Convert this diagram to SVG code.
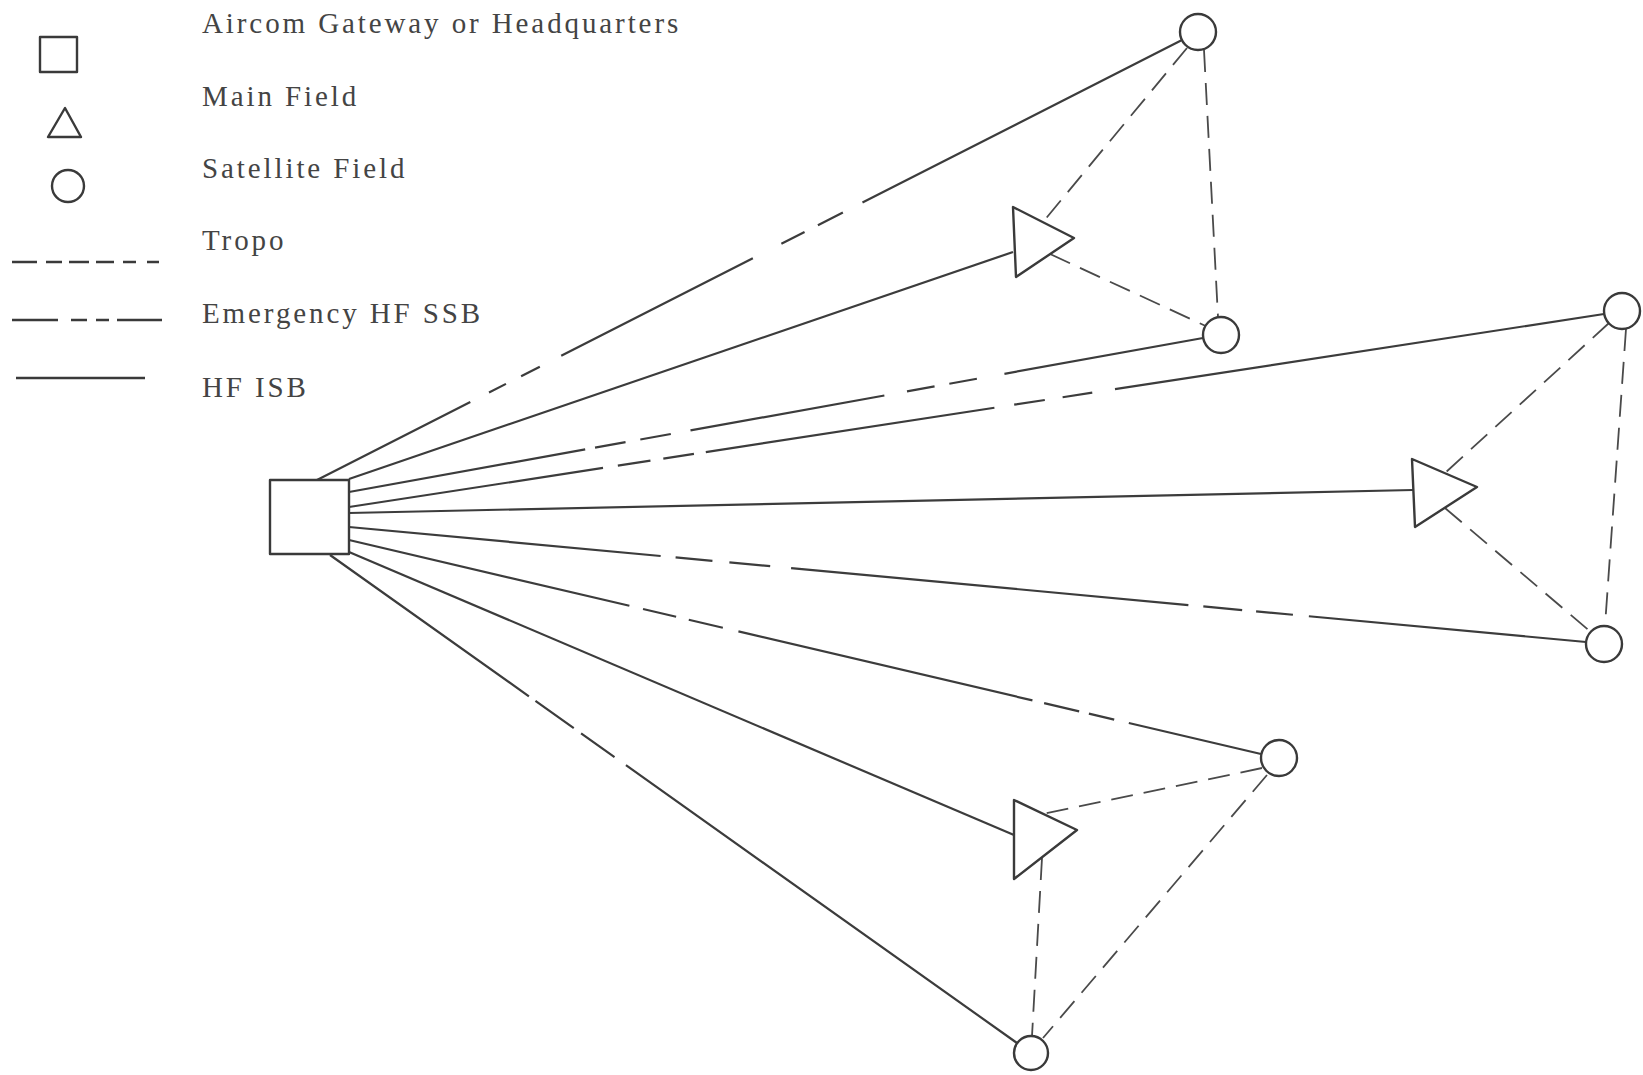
<svg xmlns="http://www.w3.org/2000/svg" width="1643" height="1075" viewBox="0 0 1643 1075">
<style>
  .bg{fill:#ffffff}
  .lbl{font-family:"Liberation Serif","DejaVu Serif",serif;font-size:29px;letter-spacing:2.9px;fill:#444444}
  .node{fill:#ffffff;stroke:#3a3a3a;stroke-width:2.4;stroke-linejoin:round}
  .sym{fill:none;stroke:#3a3a3a;stroke-width:2.4;stroke-linejoin:round}
  .isb{fill:none;stroke:#3c3c3c;stroke-width:2.2}
  .ssb{fill:none;stroke:#3c3c3c;stroke-width:2.2}
  .tropo{fill:none;stroke:#4a4a4a;stroke-width:1.8;stroke-dasharray:22 11}
</style>
<rect class="bg" x="0" y="0" width="1643" height="1075"/>

<g id="legend">
  <text class="lbl" x="202" y="33">Aircom Gateway or Headquarters</text>
  <rect class="sym" x="40" y="37" width="37" height="35"/>
  <text class="lbl" x="202" y="106">Main Field</text>
  <polygon class="sym" points="48,137 81,137 65,108"/>
  <text class="lbl" x="202" y="178">Satellite Field</text>
  <circle class="sym" cx="68" cy="186" r="16"/>
  <text class="lbl" x="202" y="250">Tropo</text>
  <line class="sym" x1="12" y1="262" x2="159" y2="262" stroke-width="2.2" stroke-dasharray="25 9 16 7 20 7 18 9 13 11 12 0"/>
  <text class="lbl" x="202" y="323">Emergency HF SSB</text>
  <line class="sym" x1="12" y1="320" x2="162" y2="320" stroke-width="2.4" stroke-dasharray="46 13 16 9 13 8 46 0"/>
  <text class="lbl" x="202" y="397">HF ISB</text>
  <line class="sym" x1="16" y1="378" x2="145" y2="378" stroke-width="2.6"/>
</g>

<g id="connectors">
  <!-- HF ISB (solid) -->
  <line class="isb" x1="349" y1="479" x2="1013" y2="252"/>
  <line class="isb" x1="349" y1="513" x2="1413" y2="490"/>
  <line class="isb" x1="349" y1="552" x2="1014" y2="835"/>
  <!-- Emergency HF SSB -->
  <line class="ssb" x1="317" y1="480" x2="1182" y2="40" stroke-dasharray="172 21 19 17 21 24 215 32 26 15 28 22 420 0"/>
  <line class="ssb" x1="349" y1="492" x2="1203" y2="338" stroke-dasharray="240 10 31 15 31 20 197 23 28 15 28 28 220 0"/>
  <line class="ssb" x1="349" y1="507" x2="1604" y2="314" stroke-dasharray="257 15 33 13 31 12 292 20 31 18 30 23 520 0"/>
  <line class="ssb" x1="349" y1="527" x2="1586" y2="642" stroke-dasharray="313 15 37 17 41 21 399 15 39 14 37 16 300 0"/>
  <line class="ssb" x1="349" y1="540" x2="1261" y2="754" stroke-dasharray="288 14 34 13 35 16 302 12 36 10 26 15 160 0"/>
  <line class="ssb" x1="330" y1="555" x2="1017" y2="1043" stroke-dasharray="244 8 47 9 41 14 500 0"/>
  <!-- Tropo -->
  <line class="tropo" x1="1187" y1="48" x2="1043" y2="222"/>
  <line class="tropo" x1="1050" y1="254" x2="1210" y2="328"/>
  <line class="tropo" x1="1204" y1="50" x2="1218" y2="317"/>
  <line class="tropo" x1="1609" y1="323" x2="1445" y2="473"/>
  <line class="tropo" x1="1445" y1="508" x2="1592" y2="633"/>
  <line class="tropo" x1="1626" y1="329" x2="1605" y2="626"/>
  <line class="tropo" x1="1262" y1="768" x2="1043" y2="814"/>
  <line class="tropo" x1="1267" y1="775" x2="1043" y2="1038"/>
  <line class="tropo" x1="1042" y1="858" x2="1032" y2="1036"/>
</g>

<g id="hq">
  <rect class="node" x="270" y="480" width="79" height="74"/>
</g>
<g id="main-field-1">
  <polygon class="node" points="1013,207 1016,277 1074,238"/>
</g>
<g id="main-field-2">
  <polygon class="node" points="1412,459 1415,527 1477,487"/>
</g>
<g id="main-field-3">
  <polygon class="node" points="1014,800 1014,879 1077,830"/>
</g>
<g id="satellite-1">
  <circle class="node" cx="1198" cy="32" r="18"/>
</g>
<g id="satellite-2">
  <circle class="node" cx="1221" cy="335" r="18"/>
</g>
<g id="satellite-3">
  <circle class="node" cx="1622" cy="311" r="18"/>
</g>
<g id="satellite-4">
  <circle class="node" cx="1604" cy="644" r="18"/>
</g>
<g id="satellite-5">
  <circle class="node" cx="1279" cy="758" r="18"/>
</g>
<g id="satellite-6">
  <circle class="node" cx="1031" cy="1053" r="17"/>
</g>
</svg>
